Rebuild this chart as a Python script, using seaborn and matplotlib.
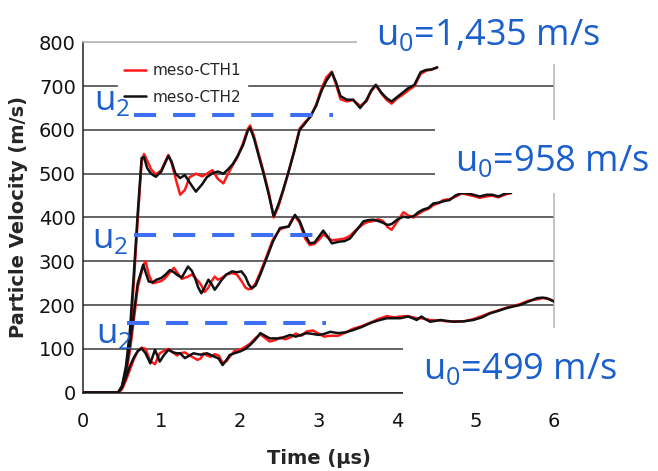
import matplotlib
matplotlib.use("Agg")
import matplotlib.pyplot as plt
import matplotlib.patches as mpatches
import seaborn as sns
import pandas as pd

# ---- data ----
t_1435 = [0, 0.45, 0.5, 0.55, 0.6, 0.65, 0.7, 0.75, 0.78, 0.82, 0.87, 0.93, 1.0, 1.05, 1.09, 1.13,
          1.18, 1.24, 1.30, 1.36, 1.44, 1.52, 1.58, 1.65, 1.72, 1.79, 1.85, 1.91, 1.97, 2.04, 2.1,
          2.13, 2.18, 2.24, 2.30, 2.37, 2.43, 2.49, 2.55, 2.62, 2.69, 2.76, 2.83, 2.90, 2.97, 3.04,
          3.10, 3.17, 3.22, 3.28, 3.36, 3.44, 3.53, 3.61, 3.67, 3.73, 3.80, 3.87, 3.93, 4.0, 4.07,
          4.14, 4.22, 4.3, 4.37, 4.44, 4.51]
cth1_1435 = [0, 0, 10, 45, 120, 250, 395, 528, 545, 530, 510, 498, 508, 528, 543, 525,
             490, 452, 463, 492, 500, 494, 500, 508, 488, 478, 500, 520, 538, 570, 602,
             610, 585, 545, 505, 455, 400, 425, 460, 505, 552, 603, 618, 630, 658, 695,
             720, 733, 705, 670, 665, 668, 655, 665, 688, 702, 683, 668, 660, 672, 680,
             690, 700, 728, 735, 738, 742]
cth2_1435 = [0, 0, 15, 60, 140, 270, 410, 536, 538, 513, 500, 493, 505, 525, 540, 528,
             500, 490, 497, 480, 459, 476, 492, 501, 505, 500, 510, 522, 540, 565, 598,
             605, 580, 540, 501, 450, 403, 430, 463, 505, 550, 600, 615, 632, 655, 690,
             712, 731, 710, 677, 669, 669, 650, 668, 690, 703, 685, 672, 665, 675, 685,
             695, 703, 732, 737, 738, 743]

t_958 = [0, 0.45, 0.5, 0.55, 0.6, 0.65, 0.7, 0.77, 0.80, 0.84, 0.89, 0.94, 1.0, 1.05, 1.11, 1.16,
         1.2, 1.26, 1.34, 1.39, 1.43, 1.47, 1.51, 1.55, 1.6, 1.64, 1.68, 1.72, 1.77, 1.83, 1.9,
         1.96, 2.02, 2.07, 2.11, 2.15, 2.2, 2.26, 2.34, 2.42, 2.51, 2.57, 2.62, 2.66, 2.70, 2.76,
         2.83, 2.89, 2.95, 3.02, 3.06, 3.11, 3.17, 3.27, 3.33, 3.40, 3.48, 3.57, 3.63, 3.70, 3.76,
         3.82, 3.88, 3.93, 4.0, 4.08, 4.14, 4.21, 4.27, 4.33, 4.40, 4.46, 4.53, 4.59, 4.67, 4.74,
         4.82, 4.9, 4.97, 5.05, 5.14, 5.21, 5.29, 5.34, 5.39, 5.45]
cth1_958 = [0, 0, 10, 40, 95, 165, 240, 290, 300, 270, 250, 252, 255, 262, 275, 285,
            275, 260, 265, 270, 262, 255, 245, 230, 240, 255, 265, 258, 262, 270, 273,
            270, 255, 240, 236, 238, 250, 275, 312, 350, 373, 377, 380, 395, 403, 388,
            352, 337, 340, 352, 362, 355, 348, 350, 352, 358, 372, 385, 390, 392, 396,
            392, 378, 372, 390, 412, 405, 400, 408, 415, 420, 428, 433, 440, 442, 447,
            455, 452, 449, 445, 448, 450, 446, 450, 453, 456]
cth2_958 = [0, 0, 15, 50, 110, 180, 250, 292, 275, 254, 252, 258, 262, 269, 280, 275,
            269, 263, 288, 278, 262, 240, 227, 240, 258, 248, 235, 245, 258, 270, 277,
            275, 277, 265, 248, 238, 245, 270, 307, 345, 376, 378, 379, 392, 406, 392,
            360, 341, 343, 360, 370, 358, 341, 345, 346, 352, 370, 391, 394, 395, 392,
            388, 383, 385, 395, 402, 400, 403, 412, 418, 422, 432, 434, 437, 440, 450,
            456, 455, 452, 448, 452, 452, 448, 452, 456, 456]

t_499 = [0, 0.45, 0.5, 0.55, 0.6, 0.65, 0.7, 0.75, 0.8, 0.86, 0.92, 0.98, 1.03, 1.09, 1.15, 1.2,
         1.24, 1.3, 1.36, 1.41, 1.46, 1.5, 1.54, 1.58, 1.63, 1.68, 1.73, 1.78, 1.83, 1.87, 1.93,
         2.0, 2.07, 2.13, 2.2, 2.26, 2.32, 2.38, 2.45, 2.51, 2.58, 2.64, 2.71, 2.78, 2.85, 2.93,
         3.0, 3.07, 3.15, 3.25, 3.35, 3.44, 3.55, 3.66, 3.76, 3.87, 3.96, 4.04, 4.14, 4.2, 4.25,
         4.31, 4.36, 4.42, 4.49, 4.55, 4.63, 4.72, 4.85, 4.97, 5.08, 5.18, 5.29, 5.39, 5.48,
         5.56, 5.67, 5.78, 5.85, 5.9, 5.95, 6.0]
cth1_499 = [0, 0, 8, 28, 52, 76, 95, 103, 100, 72, 65, 90, 95, 100, 92, 85,
            90, 92, 85, 80, 75, 78, 90, 85, 82, 88, 85, 68, 72, 82, 95,
            98, 105, 112, 125, 133, 125, 117, 120, 126, 122, 126, 135, 130, 140, 142,
            135, 128, 130, 130, 138, 146, 152, 160, 168, 175, 172, 174, 175, 172, 170,
            170, 168, 166, 165, 165, 163, 163, 163, 168, 175, 182, 188, 194, 198,
            202, 210, 213, 216, 215, 213, 208]
cth2_499 = [0, 0, 12, 35, 60, 80, 95, 101, 90, 67, 98, 71, 85, 98, 92, 90,
            90, 79, 85, 90, 88, 87, 88, 90, 86, 82, 78, 63, 75, 86, 90,
            94, 100, 109, 122, 136, 130, 124, 124, 124, 128, 132, 128, 132, 136, 134,
            132, 134, 139, 136, 138, 143, 150, 159, 165, 170, 170, 170, 174, 170, 166,
            174, 168, 162, 164, 166, 164, 162, 163, 166, 172, 181, 187, 193, 197,
            200, 208, 216, 217, 216, 212, 208]

# u2 levels (m/s) and the time span of each dashed marker
u2_levels = [635, 360, 160]
u2_start = [0.65, 0.65, 0.56]
u2_end = [3.18, 3.15, 3.10]
u2_label_pos = [(0.15, 646), (0.12, 330), (0.17, 113)]

u0_labels = ["1,435", "958", "499"]

rows = []
for case, t, a, b in [("1435", t_1435, cth1_1435, cth2_1435),
                      ("958", t_958, cth1_958, cth2_958),
                      ("499", t_499, cth1_499, cth2_499)]:
    for ti, va, vb in zip(t, a, b):
        rows.append((case, "meso-CTH1", ti, va))
        rows.append((case, "meso-CTH2", ti, vb))
df = pd.DataFrame(rows, columns=["case", "code", "time", "velocity"])

sns.set_style("white")
plt.rcParams["font.family"] = ["DejaVu Sans"]
plt.rcParams["mathtext.fontset"] = "custom"
plt.rcParams["mathtext.rm"] = "Open Sans"

W, H = 658, 471
fig = plt.figure(figsize=(6.58, 4.71), dpi=100)
ax = fig.add_axes([82.7 / W, 1 - 392.7 / H, (554.3 - 82.7) / W, (392.7 - 42.3) / H])

sns.lineplot(data=df, x="time", y="velocity", hue="code", units="case", estimator=None,
             hue_order=["meso-CTH1", "meso-CTH2"],
             palette={"meso-CTH1": "#ff1a1a", "meso-CTH2": "#111111"},
             lw=1.8, ax=ax, zorder=3)

# u2 dashed markers
for lvl, x0, x1 in zip(u2_levels, u2_start, u2_end):
    ax.hlines(lvl, x0, x1, colors="#3d6ff2", lw=2.9, linestyles=(0, (5.5, 4.2)), zorder=6)
for (x, y) in u2_label_pos:
    ax.text(x, y, "u$_\\mathrm{2}$", fontsize=25, family="Open Sans", color="#1a5fcc",
            va="baseline", ha="left", zorder=7)

ax.set_xlim(0, 6)
ax.set_ylim(0, 800)
ax.set_xticks(range(0, 7))
ax.set_yticks(range(0, 801, 100))
ax.yaxis.grid(True, color="#3a3a3a", lw=1.1)
ax.yaxis.get_gridlines()[-1].set_color("#b5b5b5")
for s in ["left", "bottom"]:
    ax.spines[s].set_color("#222222")
    ax.spines[s].set_linewidth(1.1)
for s in ["right", "top"]:
    ax.spines[s].set_color("#b5b5b5")
    ax.spines[s].set_linewidth(1.1)
ax.tick_params(axis="both", direction="out", length=4, width=1.1, color="#222222",
               labelsize=14, labelcolor="#111111")
ax.tick_params(axis="y", pad=1)
ax.tick_params(axis="x", pad=10)
ax.set_xlabel("Time (\u03bcs)", fontsize=14, fontweight="bold")
ax.set_ylabel("Particle Velocity (m/s)", fontsize=14, fontweight="bold")
ax.xaxis.set_label_coords(0.5, -0.16)
ax.yaxis.set_label_coords(-0.115, 0.5)

leg = ax.legend(loc="upper left", bbox_to_anchor=((118 - 82.7) / 471.6, (392.7 - 57) / 350.4),
                borderaxespad=0, fontsize=11, frameon=True, fancybox=False,
                handlelength=1.45, handletextpad=0.4, labelspacing=0.75, borderpad=0.4)
leg.get_frame().set_facecolor("white")
leg.get_frame().set_edgecolor("white")
leg.get_frame().set_alpha(1)
for line in leg.get_lines():
    line.set_linewidth(1.8)

# white text boxes over the chart with the u0 labels
boxes = [(357, 0, 658, 64), (435, 120, 658, 193), (403, 328, 658, 400)]
label_xy = [(376, 45), (455, 171), (423, 379)]
for (x0, y0, x1, y1), (lx, ly), lab in zip(boxes, label_xy, u0_labels):
    fig.add_artist(mpatches.Rectangle((x0 / W, 1 - y1 / H), (x1 - x0) / W, (y1 - y0) / H,
                                      transform=fig.transFigure, facecolor="white",
                                      edgecolor="none", zorder=10))
    fig.text(lx / W, 1 - ly / H, "u$_\\mathrm{0}$=" + lab + " m/s", fontsize=26,
             family="Open Sans", color="#1a5fcc", va="baseline", ha="left", zorder=11)

fig.savefig("out.png", dpi=100)
